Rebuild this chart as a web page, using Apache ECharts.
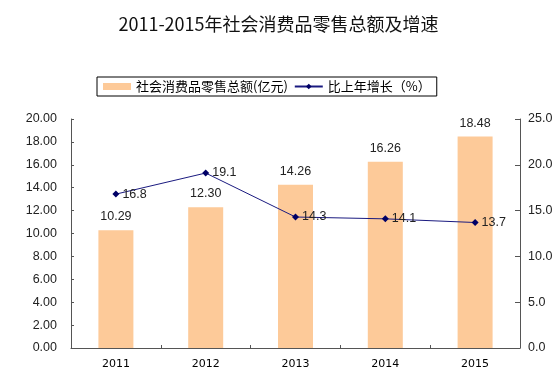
<!DOCTYPE html>
<html><head><meta charset="utf-8">
<script src="https://cdn.jsdelivr.net/npm/echarts@6/dist/echarts.min.js"></script>
<style>html,body{margin:0;padding:0;background:#fff}#c{width:557px;height:379px}</style>
</head><body><div id="c"></div>
<script>
const title = '2011-2015年社会消费品零售总额及增速';
const categories = ['2011', '2012', '2013', '2014', '2015'];
const salesName = '社会消费品零售总额(亿元)';
const salesValues = [10.29, 12.30, 14.26, 16.26, 18.48];
const growthName = '比上年增长（%）';
const growthValues = [16.8, 19.1, 14.3, 14.1, 13.7];
const leftTicks = {min: 0, max: 20, interval: 2};
const rightTicks = {min: 0, max: 25, interval: 5};

const font = '"Liberation Sans", "Noto Sans CJK SC", sans-serif';
const chart = echarts.init(document.getElementById('c'), null, {renderer: 'canvas'});
chart.setOption({
  animation: false,
  backgroundColor: '#fff',
  textStyle: {fontFamily: font},
  title: {
    text: title, left: 'center', top: 10,
    textStyle: {fontSize: 18, fontWeight: 'normal', color: '#111', fontFamily: '"Noto Sans CJK SC", sans-serif'}
  },
  legend: {
    left: 97, top: 77,
    padding: [3, 6, 3, 6],
    borderColor: '#000', borderWidth: 1,
    itemGap: 6, itemWidth: 28, itemHeight: 7,
    textStyle: {fontSize: 13, color: '#000', fontFamily: '"Noto Sans CJK SC", sans-serif'},
    data: [
      {name: salesName, icon: 'rect'},
      {name: growthName}
    ]
  },
  grid: {left: 71, right: 37, top: 119, bottom: 31, containLabel: false},
  xAxis: {
    type: 'category', data: categories,
    axisLine: {lineStyle: {color: '#555', width: 1}},
    axisTick: {show: true, inside: true, length: 3, lineStyle: {color: '#555'}},
    axisLabel: {fontSize: 11, color: '#000', margin: 11, fontFamily: '"DejaVu Sans", sans-serif'}
  },
  yAxis: [
    {
      type: 'value', min: leftTicks.min, max: leftTicks.max, interval: leftTicks.interval,
      axisLine: {show: true, lineStyle: {color: '#555'}},
      axisTick: {show: true, inside: true, length: 3, lineStyle: {color: '#555'}},
      splitLine: {show: false},
      axisLabel: {fontSize: 12.5, color: '#222', margin: 14, formatter: v => v.toFixed(2)}
    },
    {
      type: 'value', min: rightTicks.min, max: rightTicks.max, interval: rightTicks.interval,
      position: 'right',
      axisLine: {show: true, lineStyle: {color: '#555'}},
      axisTick: {show: true, inside: true, length: 5, lineStyle: {color: '#555'}},
      splitLine: {show: false},
      axisLabel: {fontSize: 12.5, color: '#222', margin: 8, formatter: v => v.toFixed(1)}
    }
  ],
  series: [
    {
      name: salesName, type: 'bar', yAxisIndex: 0, data: salesValues,
      barWidth: 35,
      itemStyle: {color: '#FDCA99'},
      label: {show: true, position: 'top', distance: 7, fontSize: 12.5, color: '#222', formatter: p => p.value.toFixed(2)}
    },
    {
      name: growthName, type: 'line', yAxisIndex: 1, data: growthValues,
      symbol: 'diamond', symbolSize: 7,
      lineStyle: {color: '#1A1A80', width: 1},
      itemStyle: {color: '#000066'},
      label: {show: true, position: 'right', distance: 3, fontSize: 12.5, color: '#222', formatter: p => p.value.toFixed(1)}
    }
  ]
});
</script></body></html>
